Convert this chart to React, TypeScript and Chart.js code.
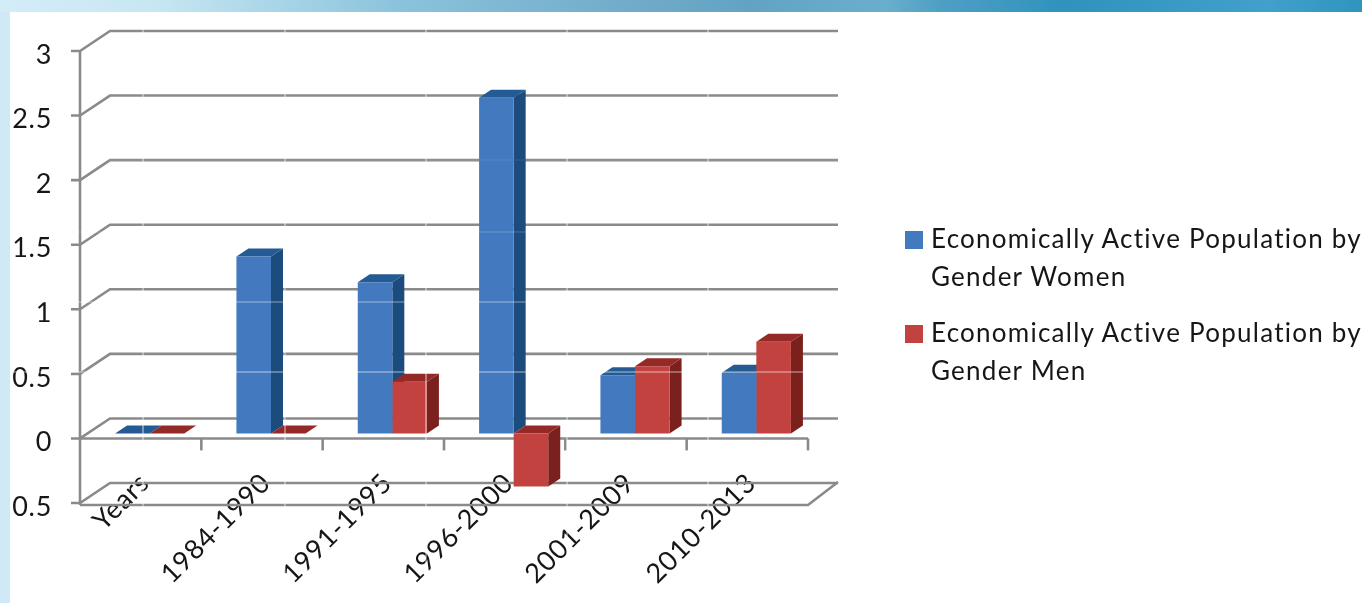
import React, { useEffect, useRef } from "react";
import { Chart, registerables } from "chart.js";

Chart.register(...registerables);

const categories = ["Years", "1984-1990", "1991-1995", "1996-2000", "2001-2009", "2010-2013"];
const women = [0, 1.37, 1.17, 2.6, 0.45, 0.47];
const men = [0, 0, 0.4, -0.41, 0.52, 0.71];
const womenLegend = ["Economically Active Population by", "Gender Women"];
const menLegend = ["Economically Active Population by", "Gender Men"];

const FONT = "Lato";
const GRID = "#8a8a8a";
const palettes = [
  { front: "#437abf", side: "#1c4b7e", top: "#245b94" },
  { front: "#c1423f", side: "#7a201d", top: "#942a27" },
];

// Oblique projection of the Excel-style 3D frame and bars
const WALL = { dx: 30, dy: -20 };
const BAR_SHIFT = { dx: 9, dy: -5 };
const BAR_DEPTH = { dx: 12, dy: -8 };

// Pale tile seams that run through the scanned picture
const seamRows = [
  { y: 160, alpha: 0.07 },
  { y: 232, alpha: 0.14 },
  { y: 302, alpha: 0.32 },
  { y: 372, alpha: 0.42 },
];
const seamCols = [143, 285, 426, 567, 708, 850];

const frame3d = {
  id: "frame3d",
  beforeDraw(chart: any) {
    chart.ctx.letterSpacing = "0.7px";
  },
  beforeDatasetsDraw(chart: any) {
    const { ctx } = chart;
    const xs = chart.scales.x;
    const ys = chart.scales.y;
    const left = xs.left;
    const right = xs.right;
    const seg = (pts: number[][]) => {
      ctx.beginPath();
      pts.forEach((p, i) => (i ? ctx.lineTo(p[0], p[1]) : ctx.moveTo(p[0], p[1])));
      ctx.stroke();
    };
    ctx.save();
    ctx.strokeStyle = GRID;
    ctx.lineWidth = 2.6;
    seg([[left, ys.top], [left, ys.bottom + 2]]);
    ys.ticks.forEach((t: any) => {
      const y = ys.getPixelForValue(t.value);
      seg([[left - 9, y], [left, y], [left + WALL.dx, y + WALL.dy], [right + WALL.dx, y + WALL.dy]]);
    });
    const y0 = ys.getPixelForValue(0);
    seg([[left, y0], [right, y0]]);
    xs.ticks.forEach((_: any, i: number) => {
      const x = xs.getPixelForTick(i) + xs.width / categories.length / 2;
      seg([[x, y0], [x, y0 + 12]]);
    });
    const yb = ys.bottom + 2;
    seg([[left, yb], [right, yb], [right + WALL.dx, ys.bottom + WALL.dy - 1]]);

    // Bar depth faces: women first, then men, all before any front face is drawn
    palettes.forEach((pal, index) => {
      chart.getDatasetMeta(index).data.forEach((el: any) => {
        const { x, y, width, base } = el.getProps(["x", "y", "width", "base"], true);
        const l = x - width / 2 + BAR_SHIFT.dx;
        const r = x + width / 2 + BAR_SHIFT.dx;
        const t = Math.min(y, base) + BAR_SHIFT.dy;
        const b = Math.max(y, base) + BAR_SHIFT.dy;
        const { dx, dy } = BAR_DEPTH;
        ctx.fillStyle = pal.side;
        ctx.beginPath();
        ctx.moveTo(r, t);
        ctx.lineTo(r + dx, t + dy);
        ctx.lineTo(r + dx, b + dy);
        ctx.lineTo(r, b);
        ctx.closePath();
        ctx.fill();
        ctx.fillStyle = pal.top;
        ctx.beginPath();
        ctx.moveTo(l, t);
        ctx.lineTo(l + dx, t + dy);
        ctx.lineTo(r + dx, t + dy);
        ctx.lineTo(r, t);
        ctx.closePath();
        ctx.fill();
      });
    });
    ctx.restore();
  },
  beforeDatasetDraw(chart: any) {
    chart.ctx.save();
    chart.ctx.translate(BAR_SHIFT.dx, BAR_SHIFT.dy);
  },
  afterDatasetDraw(chart: any) {
    chart.ctx.restore();
  },
  afterDraw(chart: any) {
    const { ctx, width, height } = chart;
    ctx.save();
    ctx.lineWidth = 1.5;
    seamRows.forEach(({ y, alpha }) => {
      ctx.strokeStyle = `rgba(255,255,255,${alpha})`;
      ctx.beginPath();
      ctx.moveTo(10, y);
      ctx.lineTo(width, y);
      ctx.stroke();
    });
    ctx.strokeStyle = "rgba(255,255,255,0.5)";
    seamCols.forEach((x) => {
      ctx.beginPath();
      ctx.moveTo(x, 12);
      ctx.lineTo(x, height);
      ctx.stroke();
    });
    ctx.restore();
  },
};

const fixSize = (prop: "width" | "height", size: number) => (scale: any) => {
  scale[prop] = size;
  scale.paddingLeft = scale.paddingRight = scale.paddingTop = scale.paddingBottom = 0;
  // the rotated labels climb above the axis line, over the floor of the 3D frame
  scale._computeLabelArea = () => undefined;
};

export default function App() {
  const ref = useRef<HTMLCanvasElement>(null);
  useEffect(() => {
    const chart = new Chart(ref.current as HTMLCanvasElement, {
      type: "bar",
      data: {
        labels: categories,
        datasets: [
          { label: womenLegend.join(" "), data: women, backgroundColor: palettes[0].front, clip: false as any },
          { label: menLegend.join(" "), data: men, backgroundColor: palettes[1].front, clip: false as any },
        ],
      },
      options: {
        responsive: false,
        animation: false,
        layout: { padding: { left: 10, top: 51, right: 554, bottom: 0 } },
        datasets: { bar: { categoryPercentage: 0.57, barPercentage: 1, borderWidth: 0 } },
        plugins: { legend: { display: false }, tooltip: { enabled: false } },
        scales: {
          x: {
            afterFit: fixSize("height", 100),
            border: { display: false },
            grid: { display: false, drawTicks: false },
            ticks: {
              autoSkip: false,
              minRotation: 45,
              maxRotation: 45,
              padding: -36,
              labelOffset: 4,
              color: "#161616",
              font: { family: FONT, size: 27 },
            },
          },
          y: {
            min: -0.5,
            max: 3,
            afterFit: fixSize("width", 70),
            border: { display: false },
            grid: { display: false, drawTicks: false },
            ticks: {
              stepSize: 0.5,
              padding: 28,
              labelOffset: 4,
              color: "#161616",
              font: { family: FONT, size: 27 },
              callback: (v: any) => String(Math.abs(Number(v))),
            },
          },
        },
      },
      plugins: [frame3d],
    } as any);
    return () => chart.destroy();
  }, []);

  const legendRow = (lines: string[], color: string, top: number) => (
    <div style={{ position: "absolute", left: 905, top, width: 457, height: 76 }}>
      <div style={{ position: "absolute", left: 0, top: 12, width: 18, height: 18, background: color }} />
      <div style={{ position: "absolute", left: 26, top: 0, whiteSpace: "nowrap", font: `26px/38px ${FONT}`, letterSpacing: "1.25px", color: "#161616" }}>
        {lines.map((t) => (
          <div key={t}>{t}</div>
        ))}
      </div>
    </div>
  );

  return (
    <div style={{ position: "fixed", left: 0, top: 0, width: 1362, height: 603, overflow: "hidden", background: "#cfe9f7" }}>
      <style>{`body{margin:0;overflow:hidden}`}</style>
      <div
        style={{
          position: "absolute", left: 0, top: 0, width: 1362, height: 12,
          background:
            "linear-gradient(90deg,#d3edf8 0%,#c8e7f2 11%,#a3d2e6 22%,#8cc3dc 29%,#6fa9c8 48%,#62a3c4 55%,#6aaecd 65%,#4f9fc5 69%,#2f93bd 78%,#42a0cb 93%,#2e95bf 100%)",
        }}
      />
      <div style={{ position: "absolute", left: 10, top: 12, width: 1352, height: 591, background: "#ffffff" }} />
      <canvas ref={ref} width={1362} height={603} style={{ position: "absolute", left: 0, top: 0 }} />
      {legendRow(womenLegend, palettes[0].front, 219)}
      {legendRow(menLegend, palettes[1].front, 313)}
    </div>
  );
}
